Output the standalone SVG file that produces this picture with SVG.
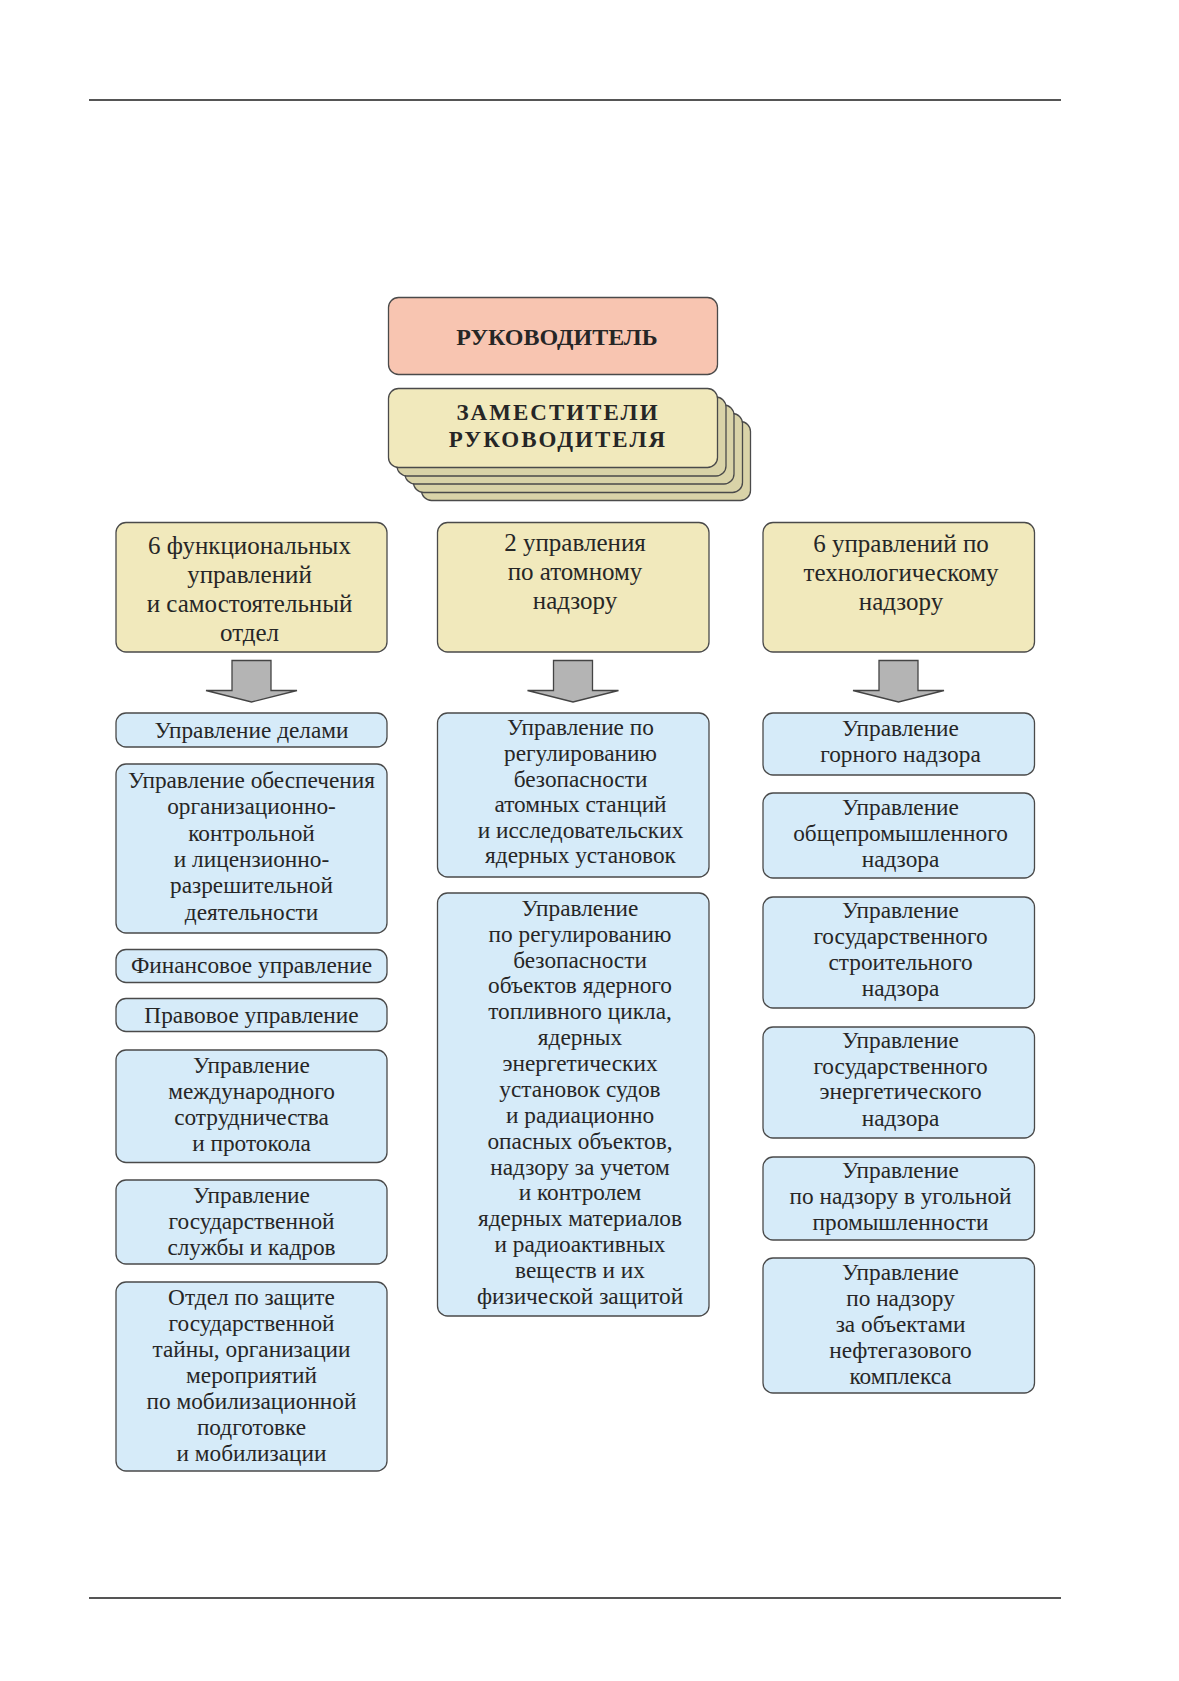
<svg xmlns="http://www.w3.org/2000/svg" width="1179" height="1681" viewBox="0 0 1179 1681">
<style>
.rule{stroke:#555;stroke-width:2;fill:none}
.box{stroke:#4a4a4a;stroke-width:1.3}
.head{fill:#f8c5b1}
.dep{fill:#f1e9bc}
.stack{fill:#d9d3a8}
.blue{fill:#d6ebf9}
.arrow{fill:#b4b4b4;stroke:#444;stroke-width:1.3}
text{font-family:"Liberation Serif","Times New Roman",serif;fill:#262626;text-anchor:middle}
.t{font-size:23.3px}
.ty{font-size:25px}
.tb{font-size:24px;font-weight:bold}
.tz{font-size:23px;font-weight:bold;letter-spacing:2px}
</style>
<line class="rule" x1="89" y1="100" x2="1061" y2="100"/>
<line class="rule" x1="89" y1="1598" x2="1061" y2="1598"/>

<g id="head">
<rect class="box head" x="388.5" y="297.5" width="329" height="77" rx="10"/>
<text class="tb" x="557" y="345">РУКОВОДИТЕЛЬ</text>
</g>

<g id="deputies">
<rect class="box stack" x="421.5" y="421.5" width="329" height="79" rx="10"/>
<rect class="box stack" x="413.5" y="413.5" width="329" height="79" rx="10"/>
<rect class="box stack" x="405" y="405" width="329" height="79" rx="10"/>
<rect class="box stack" x="397" y="397" width="329" height="79" rx="10"/>
<rect class="box dep" x="388.5" y="388.5" width="329" height="79" rx="10"/>
<text class="tz" x="558" y="420">ЗАМЕСТИТЕЛИ</text>
<text class="tz" x="558" y="447">РУКОВОДИТЕЛЯ</text>
</g>

<g id="grp-func">
<rect class="box dep" x="116" y="522.5" width="271" height="129.5" rx="10"/>
<text class="ty" x="249.5" y="554">6 функциональных</text>
<text class="ty" x="249.5" y="583">управлений</text>
<text class="ty" x="249.5" y="612">и самостоятельный</text>
<text class="ty" x="249.5" y="641">отдел</text>
</g>
<g id="grp-atom">
<rect class="box dep" x="437.5" y="522.5" width="271.5" height="129.5" rx="10"/>
<text class="ty" x="575" y="551">2 управления</text>
<text class="ty" x="575" y="580">по атомному</text>
<text class="ty" x="575" y="609">надзору</text>
</g>
<g id="grp-tech">
<rect class="box dep" x="763" y="522.5" width="271.5" height="129.5" rx="10"/>
<text class="ty" x="901" y="552">6 управлений по</text>
<text class="ty" x="901" y="581">технологическому</text>
<text class="ty" x="901" y="610">надзору</text>
</g>

<g id="connectors">
<path class="arrow" d="M232 660.5H271V690.5H297L251.5 702L206 690.5H232Z"/>
<path class="arrow" d="M553.5 660.5H592.5V690.5H618.5L573 702L527.5 690.5H553.5Z"/>
<path class="arrow" d="M879 660.5H918V690.5H944L898.5 702L853 690.5H879Z"/>
</g>

<g id="n-dela">
<rect class="box blue" x="116" y="713" width="271" height="34" rx="10"/>
<text class="t" x="251.5" y="738">Управление делами</text>
</g>
<g id="n-obesp">
<rect class="box blue" x="116" y="764" width="271" height="169" rx="10"/>
<text class="t" x="251.5" y="788">Управление обеспечения</text>
<text class="t" x="251.5" y="814">организационно-</text>
<text class="t" x="251.5" y="841">контрольной</text>
<text class="t" x="251.5" y="867">и лицензионно-</text>
<text class="t" x="251.5" y="893">разрешительной</text>
<text class="t" x="251.5" y="920">деятельности</text>
</g>
<g id="n-fin">
<rect class="box blue" x="116" y="949.5" width="271" height="33" rx="10"/>
<text class="t" x="251.5" y="973">Финансовое управление</text>
</g>
<g id="n-prav">
<rect class="box blue" x="116" y="998.5" width="271" height="33" rx="10"/>
<text class="t" x="251.5" y="1023">Правовое управление</text>
</g>
<g id="n-mezhd">
<rect class="box blue" x="116" y="1050" width="271" height="112.5" rx="10"/>
<text class="t" x="251.5" y="1073">Управление</text>
<text class="t" x="251.5" y="1099">международного</text>
<text class="t" x="251.5" y="1125">сотрудничества</text>
<text class="t" x="251.5" y="1151">и протокола</text>
</g>
<g id="n-kadr">
<rect class="box blue" x="116" y="1180" width="271" height="84" rx="10"/>
<text class="t" x="251.5" y="1203">Управление</text>
<text class="t" x="251.5" y="1229">государственной</text>
<text class="t" x="251.5" y="1255">службы и кадров</text>
</g>
<g id="n-taina">
<rect class="box blue" x="116" y="1282" width="271" height="189" rx="10"/>
<text class="t" x="251.5" y="1305">Отдел по защите</text>
<text class="t" x="251.5" y="1331">государственной</text>
<text class="t" x="251.5" y="1357">тайны, организации</text>
<text class="t" x="251.5" y="1383">мероприятий</text>
<text class="t" x="251.5" y="1409">по мобилизационной</text>
<text class="t" x="251.5" y="1435">подготовке</text>
<text class="t" x="251.5" y="1461">и мобилизации</text>
</g>

<g id="n-aes">
<rect class="box blue" x="437.5" y="713" width="271.5" height="164" rx="10"/>
<text class="t" x="580.5" y="735">Управление по</text>
<text class="t" x="580.5" y="761">регулированию</text>
<text class="t" x="580.5" y="787">безопасности</text>
<text class="t" x="580.5" y="812">атомных станций</text>
<text class="t" x="580.5" y="838">и исследовательских</text>
<text class="t" x="580.5" y="863">ядерных установок</text>
</g>
<g id="n-ytc">
<rect class="box blue" x="437.5" y="893" width="271.5" height="423" rx="10"/>
<text class="t" x="580" y="916">Управление</text>
<text class="t" x="580" y="942">по регулированию</text>
<text class="t" x="580" y="968">безопасности</text>
<text class="t" x="580" y="993">объектов ядерного</text>
<text class="t" x="580" y="1019">топливного цикла,</text>
<text class="t" x="580" y="1045">ядерных</text>
<text class="t" x="580" y="1071">энергетических</text>
<text class="t" x="580" y="1097">установок судов</text>
<text class="t" x="580" y="1123">и радиационно</text>
<text class="t" x="580" y="1149">опасных объектов,</text>
<text class="t" x="580" y="1175">надзору за учетом</text>
<text class="t" x="580" y="1200">и контролем</text>
<text class="t" x="580" y="1226">ядерных материалов</text>
<text class="t" x="580" y="1252">и радиоактивных</text>
<text class="t" x="580" y="1278">веществ и их</text>
<text class="t" x="580" y="1304">физической защитой</text>
</g>

<g id="n-gorn">
<rect class="box blue" x="763" y="713" width="271.5" height="62" rx="10"/>
<text class="t" x="900.5" y="736">Управление</text>
<text class="t" x="900.5" y="762">горного надзора</text>
</g>
<g id="n-obsch">
<rect class="box blue" x="763" y="793" width="271.5" height="85" rx="10"/>
<text class="t" x="900.5" y="815">Управление</text>
<text class="t" x="900.5" y="841">общепромышленного</text>
<text class="t" x="900.5" y="867">надзора</text>
</g>
<g id="n-stroi">
<rect class="box blue" x="763" y="897" width="271.5" height="111" rx="10"/>
<text class="t" x="900.5" y="918">Управление</text>
<text class="t" x="900.5" y="944">государственного</text>
<text class="t" x="900.5" y="970">строительного</text>
<text class="t" x="900.5" y="996">надзора</text>
</g>
<g id="n-energ">
<rect class="box blue" x="763" y="1027" width="271.5" height="111" rx="10"/>
<text class="t" x="900.5" y="1048">Управление</text>
<text class="t" x="900.5" y="1074">государственного</text>
<text class="t" x="900.5" y="1099">энергетического</text>
<text class="t" x="900.5" y="1126">надзора</text>
</g>
<g id="n-ugol">
<rect class="box blue" x="763" y="1157" width="271.5" height="83" rx="10"/>
<text class="t" x="900.5" y="1178">Управление</text>
<text class="t" x="900.5" y="1204">по надзору в угольной</text>
<text class="t" x="900.5" y="1230">промышленности</text>
</g>
<g id="n-neft">
<rect class="box blue" x="763" y="1258" width="271.5" height="135" rx="10"/>
<text class="t" x="900.5" y="1280">Управление</text>
<text class="t" x="900.5" y="1306">по надзору</text>
<text class="t" x="900.5" y="1332">за объектами</text>
<text class="t" x="900.5" y="1358">нефтегазового</text>
<text class="t" x="900.5" y="1384">комплекса</text>
</g>
</svg>
